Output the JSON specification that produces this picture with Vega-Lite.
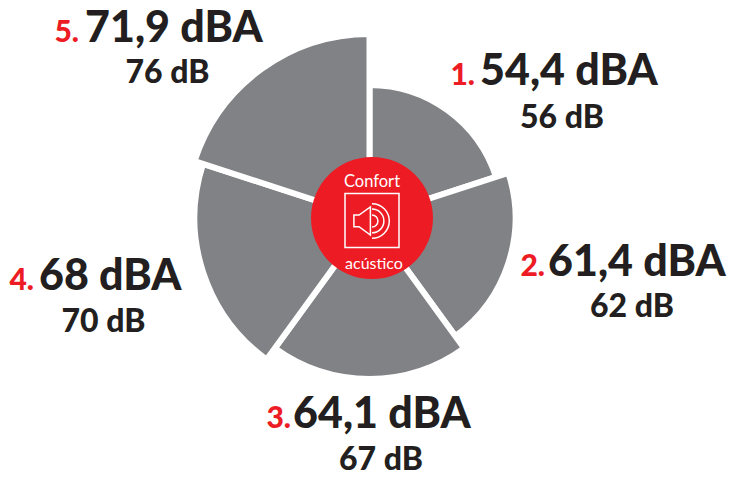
{
 "$schema":"https://vega.github.io/schema/vega-lite/v6.json",
 "width":717,"height":436,
 "autosize":{"type":"none"},
 "padding":{"left":11,"top":0,"right":2,"bottom":42},
 "background":"white",
 "view":{"stroke":null},
 "datasets":{"rows":[
  {"order":1,"prefix":"1.","dBA":54.4,"dB":56,"main":"54,4 dBA","sub":"56 dB","slice":1},
  {"order":2,"prefix":"2.","dBA":61.4,"dB":62,"main":"61,4 dBA","sub":"62 dB","slice":1},
  {"order":3,"prefix":"3.","dBA":64.1,"dB":67,"main":"64,1 dBA","sub":"67 dB","slice":1},
  {"order":4,"prefix":"4.","dBA":68,"dB":70,"main":"68 dBA","sub":"70 dB","slice":1},
  {"order":5,"prefix":"5.","dBA":71.9,"dB":76,"main":"71,9 dBA","sub":"76 dB","slice":1}
 ]},
 "data":{"name":"rows"},
 "layer":[
  {"transform":[{"stack":"slice","sort":[{"field":"order","order":"ascending"}],"as":["a0","a1"]}],
   "mark":{"type":"arc","color":"#808285","stroke":"white","strokeWidth":6},
   "encoding":{
    "theta":{"field":"a0","type":"quantitative","stack":false,"scale":{"domain":[0,5],"range":[0,6.2832]}},
    "theta2":{"field":"a1"},
    "radius":{"field":"dB","type":"quantitative","stack":false,"scale":{"type":"linear","zero":false,"domain":[56,62,67,70,76],"range":[133,146,161,175,184]}},
    "radius2":{"value":0}
   }},
  {"data":{"values":[{"item":"circle"}]},
   "mark":{"type":"point","shape":"circle","filled":true,"color":"#ed1c24","opacity":1,"size":14884,"xOffset":2.5},"encoding":{}},
  {"data":{"values":[{"item":"icon"}]},
   "mark":{"type":"point","filled":false,"color":"white","opacity":1,"strokeWidth":1.5,"size":2916,"xOffset":2.5,
    "shape":"M-1,-0.91 L1,-0.91 L1,1.09 L-1,1.09 Z M-0.67,-0.11 L-0.48,-0.11 L-0.06,-0.41 L-0.06,0.63 L-0.48,0.32 L-0.67,0.32 Z M0,-0.53 A0.64,0.64 0 0 1 0,0.75 M0,-0.33 A0.44,0.44 0 0 1 0,0.55 M0,-0.11 A0.22,0.22 0 0 1 0,0.33"},
   "encoding":{}},
  {"data":{"values":[{"t":"Confort"}]},
   "mark":{"type":"text","font":"Lato","fontSize":16.5,"color":"white","dy":-36,"dx":2.5,"baseline":"middle","align":"center"},
   "encoding":{"text":{"field":"t"}}},
  {"data":{"values":[{"t":"acústico"}]},
   "mark":{"type":"text","font":"Lato","fontSize":16,"color":"white","dy":46,"dx":4.5,"baseline":"middle","align":"center"},
   "encoding":{"text":{"field":"t"}}},
  {"mark":{"type":"text","font":"Lato","fontWeight":900,"fontSize":43,"color":"#231f20","align":"left","baseline":"alphabetic"},
   "encoding":{
    "x":{"field":"order","type":"quantitative","axis":null,"scale":{"zero":false,"nice":false,"domain":[1,2,3,4,5],"range":[469,537,282,28,74]}},
    "y":{"field":"order","type":"quantitative","axis":null,"scale":{"zero":false,"nice":false,"domain":[1,2,3,4,5],"range":[85,276,428,290,42]}},
    "text":{"field":"main"}}},
  {"mark":{"type":"text","font":"Lato","fontWeight":900,"fontSize":30,"color":"#ed1c24","align":"right","baseline":"alphabetic"},
   "encoding":{
    "x":{"field":"order","type":"quantitative","axis":null,"scale":{"zero":false,"nice":false,"domain":[1,2,3,4,5],"range":[464,534,280,23,68]}},
    "y":{"field":"order","type":"quantitative","axis":null,"scale":{"zero":false,"nice":false,"domain":[1,2,3,4,5],"range":[85,276,428,290,42]}},
    "text":{"field":"prefix"}}},
  {"mark":{"type":"text","font":"Lato","fontWeight":900,"fontSize":32,"color":"#231f20","align":"center","baseline":"alphabetic"},
   "encoding":{
    "x":{"field":"order","type":"quantitative","axis":null,"scale":{"zero":false,"nice":false,"domain":[1,2,3,4,5],"range":[551,621,370,92.5,156.5]}},
    "y":{"field":"order","type":"quantitative","axis":null,"scale":{"zero":false,"nice":false,"domain":[1,2,3,4,5],"range":[128,317,470,332,83]}},
    "text":{"field":"sub"}}}
 ],
 "resolve":{"scale":{"x":"independent","y":"independent"}}
}
